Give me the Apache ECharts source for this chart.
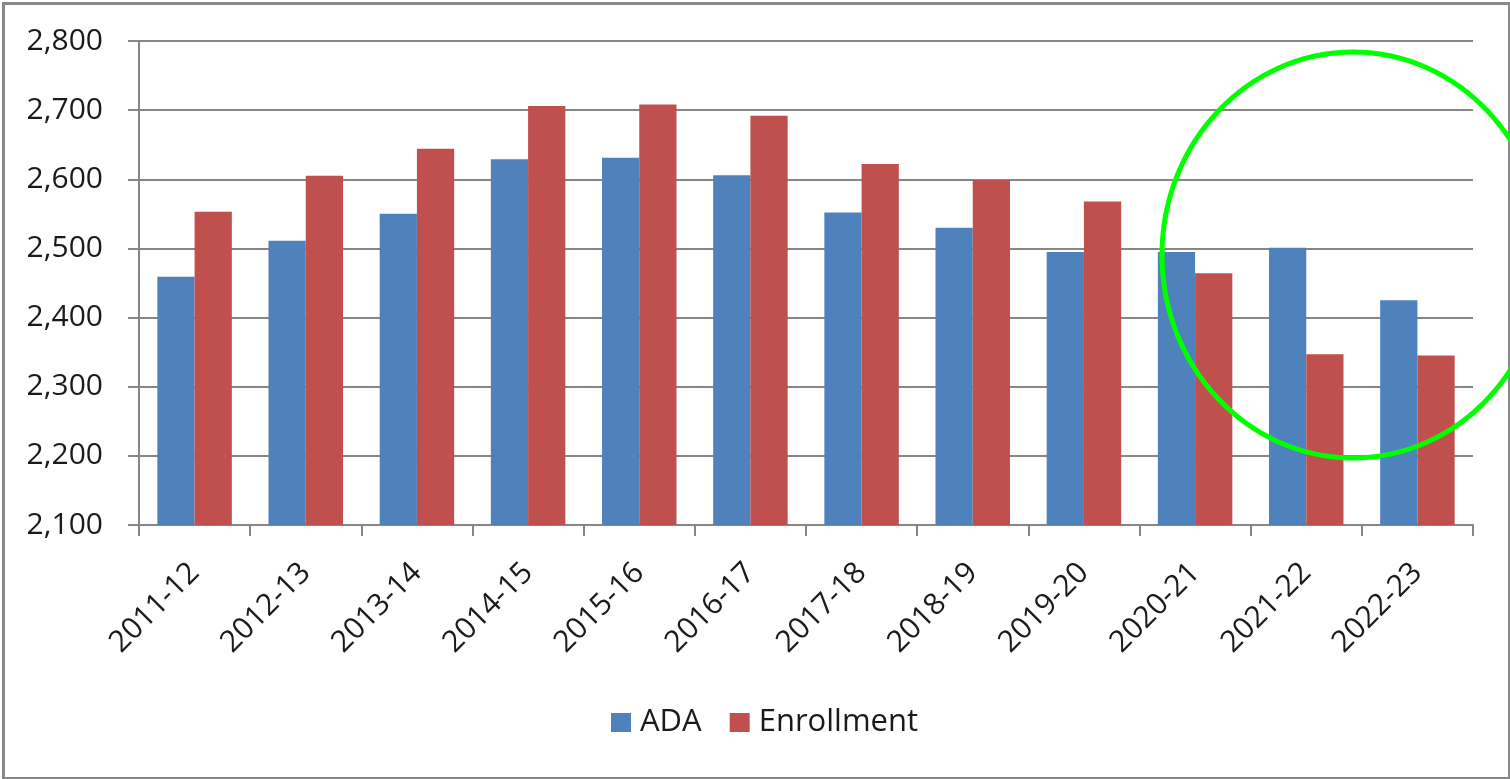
<!DOCTYPE html>
<html>
<head>
<meta charset="utf-8">
<script src="https://cdn.jsdelivr.net/npm/echarts@6/dist/echarts.min.js"></script>
<style>
html,body{margin:0;padding:0;background:#fff;}
#chart{width:1510px;height:779px;}
</style>
</head>
<body>
<div id="chart"></div>
<script>
const categories = ['2011-12','2012-13','2013-14','2014-15','2015-16','2016-17','2017-18','2018-19','2019-20','2020-21','2021-22','2022-23'];
const adaValues = [2459, 2511, 2550, 2629, 2631, 2606, 2552, 2530, 2495, 2495, 2501, 2425];
const enrollmentValues = [2553, 2605, 2644, 2706, 2708, 2692, 2622, 2599, 2568, 2464, 2347, 2345];
const yTicks = {min: 2100, max: 2800, interval: 100};

const chart = echarts.init(document.getElementById('chart'));
const font = 'Open Sans';
chart.setOption({
  animation: false,
  backgroundColor: '#fff',
  graphic: [{
    type: 'rect', left: 1, top: 1, silent: true,
    shape: {width: 1506, height: 775},
    style: {fill: 'none', stroke: '#888888', lineWidth: 3}
  }, {
    type: 'ellipse', silent: true, z: 100,
    shape: {cx: 1353, cy: 255, rx: 191, ry: 203},
    style: {fill: 'none', stroke: '#00FF00', lineWidth: 5}
  }],
  grid: {left: 139, right: 37, top: 41, bottom: 254},
  legend: {
    bottom: 36, left: 606,
    itemWidth: 20, itemHeight: 19, itemGap: 28,
    icon: 'rect',
    textStyle: {fontFamily: font, fontSize: 31, color: '#1a1a1a', padding: [0,0,0,4]},
    data: ['ADA', 'Enrollment']
  },
  xAxis: {
    type: 'category',
    data: categories,
    axisLine: {lineStyle: {color: '#868686', width: 2}},
    axisTick: {show: true, length: 11, lineStyle: {color: '#868686', width: 2}},
    axisLabel: {rotate: 45, margin: 43, fontFamily: font, fontSize: 30, color: '#1a1a1a', interval: 0}
  },
  yAxis: {
    type: 'value',
    min: yTicks.min, max: yTicks.max, interval: yTicks.interval,
    axisLine: {show: true, lineStyle: {color: '#868686', width: 2}},
    axisTick: {show: true, length: 11, lineStyle: {color: '#868686', width: 2}},
    splitLine: {lineStyle: {color: '#868686', width: 2}},
    axisLabel: {
      margin: 36, fontFamily: font, fontSize: 30, color: '#1a1a1a',
      formatter: v => v.toLocaleString('en-US')
    }
  },
  series: [
    {name: 'ADA', type: 'bar', data: adaValues, barGap: '0%', barCategoryGap: '33%',
     itemStyle: {color: '#4F81BD'}},
    {name: 'Enrollment', type: 'bar', data: enrollmentValues, barGap: '0%', barCategoryGap: '33%',
     itemStyle: {color: '#C0504D'}}
  ]
});
</script>
</body>
</html>
